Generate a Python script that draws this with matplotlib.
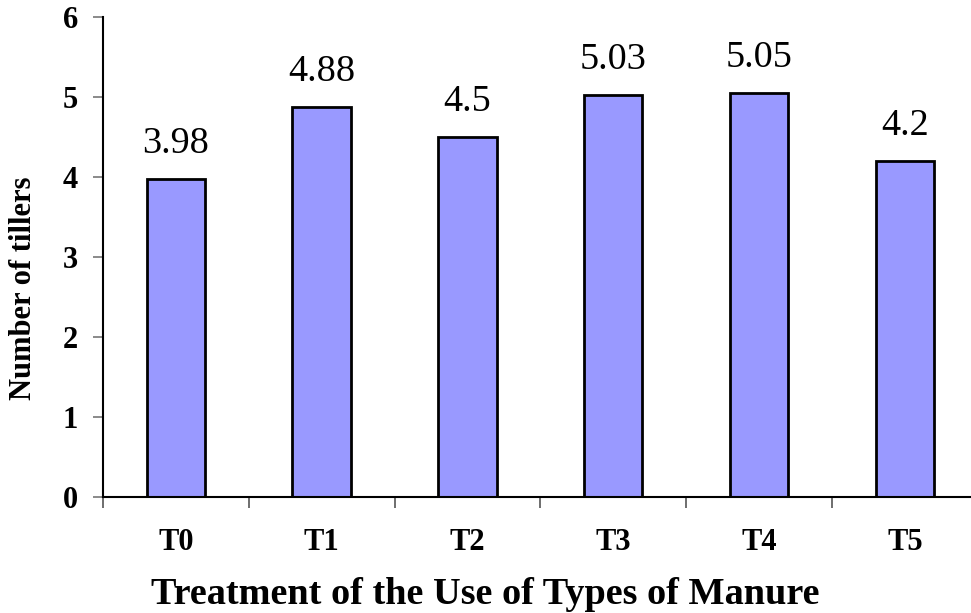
import numpy as np
import matplotlib.pyplot as plt

# treatments and mean number of tillers
treatments = ["T0", "T1", "T2", "T3", "T4", "T5"]
tillers = [3.98, 4.88, 4.5, 5.03, 5.05, 4.2]
value_labels = ["3.98", "4.88", "4.5", "5.03", "5.05", "4.2"]

plt.rcParams['font.family'] = ['Liberation Serif', 'DejaVu Serif']

fig = plt.figure(figsize=(9.71, 6.13), dpi=100)
ax = fig.add_axes([0.106, 0.189, 0.901, 0.783])

x = np.arange(len(treatments))
bars = ax.bar(x, tillers, width=0.4, color="#9999FF", edgecolor="black", linewidth=2)

for b, lab in zip(bars, value_labels):
    ax.annotate(lab, (b.get_x() + b.get_width() / 2, b.get_height()),
                xytext=(0, 13), textcoords="offset points",
                ha="center", va="bottom", fontsize=27.5)

ax.set_xlim(-0.5, len(treatments) - 0.5)
ax.set_ylim(0, 6)
ax.set_yticks(range(0, 7))
ax.set_xticks(x)
ax.set_xticklabels(treatments, fontsize=22, fontweight="bold")
ax.set_xticks(np.arange(-0.5, len(treatments), 1.0), minor=True)
ax.tick_params(axis="x", which="major", length=0, pad=22)
ax.tick_params(axis="x", which="minor", length=8, width=1.2, color="#555555", direction="out")
ax.tick_params(axis="y", length=7, width=1.2, color="#777777", direction="out", pad=11)
for lab in ax.get_yticklabels():
    lab.set_fontsize(22)
    lab.set_fontweight("bold")

for s in ["top", "right"]:
    ax.spines[s].set_visible(False)
for s in ["left", "bottom"]:
    ax.spines[s].set_linewidth(1.5)

ax.set_xlabel("Treatment of the Use of Types of Manure", fontsize=27.5, fontweight="bold")
ax.xaxis.set_label_coords(0.437, -0.166)
ax.set_ylabel("Number of tillers", fontsize=22, fontweight="bold")
ax.yaxis.set_label_coords(-0.074, 0.435)

fig.savefig("out.png", dpi=100)
